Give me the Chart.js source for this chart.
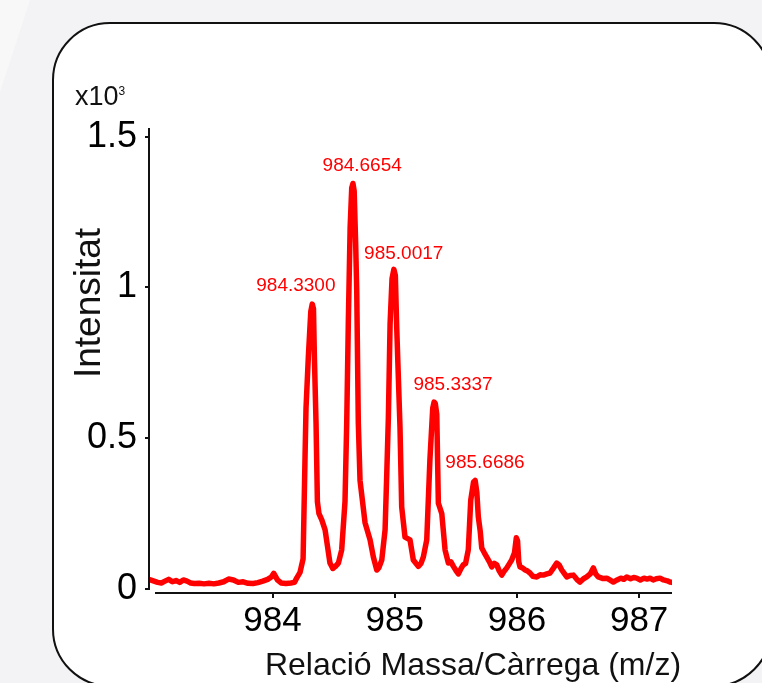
<!DOCTYPE html>
<html>
<head>
<meta charset="utf-8">
<script src="https://cdn.jsdelivr.net/npm/chart.js@4.4.1/dist/chart.umd.min.js"></script>
<style>
  html, body { margin: 0; padding: 0; }
  body { width: 762px; height: 683px; overflow: hidden; background: #f3f2f5; position: relative; }
  #shade { position: absolute; left: 0; top: 0; width: 40px; height: 100px; background: #f8f8f9; clip-path: polygon(0 0, 30px 0, 0 92px); }
  #card { position: absolute; left: 52px; top: 22px; width: 720px; height: 665px; background: #fff; border: 2.5px solid #111; border-radius: 58px; box-sizing: border-box; }
  #wrap { position: absolute; left: 0; top: 0; width: 762px; height: 683px; }
</style>
</head>
<body>
<div id="shade"></div>
<div id="card"></div>
<div id="wrap"><canvas id="spectrum"></canvas></div>
<script>
'use strict'
// m/z and intensity (x10^3)
const mzValues = [
  983.00, 983.03, 983.06, 983.09, 983.12, 983.15, 983.18, 983.21, 983.24, 983.27,
  983.30, 983.33, 983.36, 983.40, 983.44, 983.48, 983.52, 983.56, 983.60, 983.64,
  983.68, 983.72, 983.76, 983.80, 983.84, 983.88, 983.92, 983.96, 983.99, 984.01,
  984.04, 984.07, 984.11, 984.15, 984.18, 984.20, 984.225, 984.25, 984.266, 984.274,
  984.293, 984.313, 984.325, 984.335, 984.343, 984.356, 984.367, 984.38, 984.403, 984.43,
  984.47, 984.493, 984.515, 984.539, 984.566, 984.593, 984.607, 984.62, 984.635, 984.648,
  984.658, 984.668, 984.68, 984.689, 984.702, 984.716, 984.757, 984.798, 984.825, 984.853,
  984.87, 984.894, 984.921, 984.935, 984.948, 984.962, 984.978, 984.993, 985.005, 985.016,
  985.043, 985.057, 985.084, 985.125, 985.152, 985.193, 985.215, 985.234, 985.262, 985.288,
  985.311, 985.322, 985.332, 985.344, 985.357, 985.385, 985.412, 985.439, 985.46, 985.48,
  985.50, 985.521, 985.545, 985.561, 985.58, 985.602, 985.622, 985.645, 985.658, 985.672,
  985.684, 985.70, 985.712, 985.733, 985.753, 985.775, 985.794, 985.815, 985.835, 985.855,
  985.876, 985.897, 985.917, 985.94, 985.957, 985.98, 985.995, 986.005, 986.015, 986.025,
  986.045, 986.066, 986.085, 986.107, 986.13, 986.162, 986.19, 986.216, 986.245, 986.271,
  986.30, 986.326, 986.345, 986.367, 986.39, 986.408, 986.435, 986.462, 986.49, 986.516,
  986.545, 986.571, 986.60, 986.625, 986.645, 986.666, 986.70, 986.735, 986.76, 986.789,
  986.82, 986.85, 986.875, 986.899, 986.93, 986.955, 986.98, 987.01, 987.04, 987.065,
  987.089, 987.115, 987.14, 987.171, 987.20, 987.23, 987.252, 987.268
];
const intensityValues = [
  0.030, 0.026, 0.022, 0.020, 0.026, 0.032, 0.024, 0.028, 0.022, 0.030,
  0.026, 0.020, 0.018, 0.019, 0.017, 0.019, 0.017, 0.020, 0.024, 0.033,
  0.030, 0.022, 0.024, 0.019, 0.018, 0.021, 0.026, 0.032, 0.040, 0.052,
  0.030, 0.020, 0.018, 0.020, 0.022, 0.038, 0.055, 0.100, 0.440, 0.600,
  0.770, 0.920, 0.945, 0.930, 0.760, 0.550, 0.290, 0.250, 0.229, 0.196,
  0.086, 0.068, 0.075, 0.086, 0.130, 0.290, 0.550, 0.880, 1.200, 1.330,
  1.345, 1.320, 1.150, 0.990, 0.550, 0.360, 0.220, 0.163, 0.106, 0.063,
  0.070, 0.096, 0.196, 0.385, 0.570, 0.880, 1.030, 1.060, 1.040, 0.870,
  0.537, 0.272, 0.172, 0.163, 0.096, 0.075, 0.085, 0.106, 0.163, 0.430,
  0.600, 0.620, 0.615, 0.580, 0.285, 0.250, 0.129, 0.086, 0.090, 0.075,
  0.062, 0.050, 0.070, 0.080, 0.085, 0.130, 0.295, 0.355, 0.360, 0.320,
  0.239, 0.190, 0.136, 0.120, 0.106, 0.090, 0.073, 0.085, 0.080, 0.060,
  0.046, 0.060, 0.070, 0.085, 0.096, 0.120, 0.170, 0.160, 0.090, 0.073,
  0.070, 0.063, 0.060, 0.053, 0.042, 0.040, 0.047, 0.046, 0.050, 0.053,
  0.070, 0.086, 0.080, 0.063, 0.050, 0.040, 0.045, 0.046, 0.032, 0.023,
  0.034, 0.040, 0.050, 0.070, 0.050, 0.040, 0.035, 0.036, 0.030, 0.023,
  0.030, 0.036, 0.032, 0.040, 0.034, 0.038, 0.036, 0.030, 0.036, 0.033,
  0.036, 0.030, 0.034, 0.036, 0.030, 0.027, 0.023, 0.022
];
const peakLabels = ['984.3300', '984.6654', '985.0017', '985.3337', '985.6686'];
const peakMz = [984.33, 984.66, 985.00, 985.33, 985.665];
const peakIntensity = [0.945, 1.345, 1.06, 0.62, 0.36];
const xTicks = [984, 985, 986, 987];
const yTicks = [0, 0.5, 1, 1.5];
const yTickLabels = ['0', '0.5', '1', '1.5'];
const xTitle = 'Relació Massa/Càrrega (m/z)';
const yTitle = 'Intensitat';

const fontFam = '"Liberation Sans", Arial, Helvetica, sans-serif';
const red = '#ff0000';

let points = [];
for (let i = 0; i < mzValues.length; i++) {
    points.push({ x: mzValues[i], y: intensityValues[i] });
}

const labelNudge = [[-17, 13], [9, 12], [9, 10], [18, 12], [9, 12]];

const decorPlugin = {
    id: 'decor',
    afterDraw(chart) {
        const ctx = chart.ctx;
        const area = chart.chartArea;
        const xs = chart.scales.x;
        const ys = chart.scales.y;
        ctx.save();
        // axis lines, ggplot style (detached at the corner)
        ctx.strokeStyle = '#111';
        ctx.lineWidth = 2;
        ctx.beginPath();
        ctx.moveTo(area.left, area.top);
        ctx.lineTo(area.left, ys.getPixelForValue(0) + 1);
        ctx.moveTo(area.left + 6, area.bottom);
        ctx.lineTo(area.right, area.bottom);
        ctx.stroke();

        // peak labels
        ctx.fillStyle = red;
        ctx.font = '19px ' + fontFam;
        ctx.textAlign = 'center';
        ctx.textBaseline = 'alphabetic';
        for (let i = 0; i < peakLabels.length; i++) {
            let px = xs.getPixelForValue(peakMz[i]);
            let py = ys.getPixelForValue(peakIntensity[i]);
            ctx.fillText(peakLabels[i], px + labelNudge[i][0], py - labelNudge[i][1]);
        }

        // axis titles
        ctx.fillStyle = '#111';
        ctx.font = '32px ' + fontFam;
        ctx.fillText(xTitle, 473, 675);
        ctx.save();
        ctx.translate(100, 303);
        ctx.rotate(-Math.PI / 2);
        ctx.font = '37px ' + fontFam;
        ctx.fillText(yTitle, 0, 0);
        ctx.restore();

        // multiplier
        ctx.textAlign = 'left';
        ctx.font = '27px ' + fontFam;
        ctx.fillText('x10', 75, 105);
        let w = ctx.measureText('x10').width;
        ctx.font = '12px ' + fontFam;
        ctx.fillText('3', 75 + w, 95);
        ctx.restore();
    }
};

const ctx = document.getElementById('spectrum');
new Chart(ctx, {
    type: 'line',
    data: {
        datasets: [{
            data: points,
            borderColor: red,
            borderWidth: 5.5,
            pointRadius: 0,
            tension: 0,
            borderJoinStyle: 'round',
            borderCapStyle: 'round',
            fill: false
        }]
    },
    options: {
        responsive: true,
        maintainAspectRatio: false,
        animation: false,
        layout: { padding: { top: 128, right: 90, left: 0, bottom: 0 } },
        plugins: { legend: { display: false }, tooltip: { enabled: false } },
        scales: {
            x: {
                type: 'linear',
                min: 982.989,
                max: 987.269,
                afterFit: s => { s.height = 90; },
                afterBuildTicks: s => { s.ticks = xTicks.map(v => ({ value: v })); },
                border: { display: false },
                grid: { drawOnChartArea: false, drawTicks: true, tickLength: 5, color: '#111', lineWidth: 2 },
                ticks: { color: '#000', padding: 2, maxRotation: 0, font: { family: fontFam, size: 35 } }
            },
            y: {
                type: 'linear',
                min: -0.0133,
                max: 1.529,
                afterFit: s => { s.width = 149; },
                afterBuildTicks: s => { s.ticks = yTicks.map(v => ({ value: v })); },
                border: { display: false },
                grid: { drawOnChartArea: false, drawTicks: true, tickLength: 4, color: '#111', lineWidth: 2 },
                ticks: {
                    color: '#000',
                    padding: 8,
                    font: { family: fontFam, size: 36 },
                    callback: (v) => yTickLabels[yTicks.indexOf(v)]
                }
            }
        }
    },
    plugins: [decorPlugin]
});
</script>
</body>
</html>
